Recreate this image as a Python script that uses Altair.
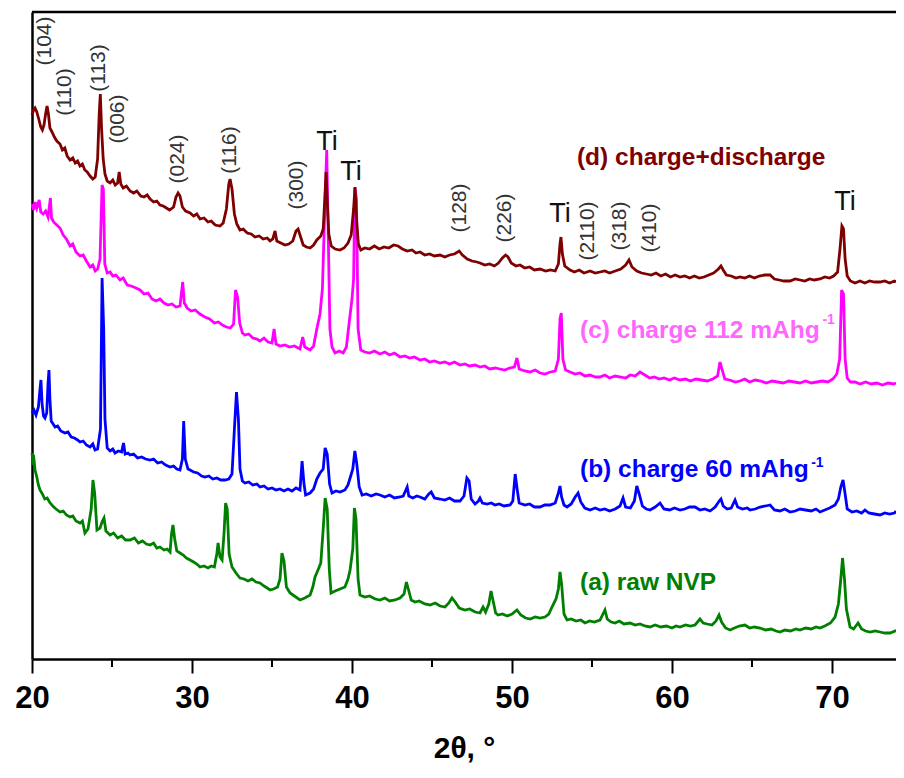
import altair as alt
import pandas as pd

# ---- data: (2theta in degrees, intensity in a.u.) ----
D_PTS = [
    (20.00, 544), (20.10, 549), (20.19, 551), (20.30, 547), (20.42, 540), (20.55, 532), (20.65, 529),
    (20.75, 534), (20.85, 545), (20.94, 553), (21.02, 546), (21.12, 531), (21.25, 527), (21.40, 522),
    (21.55, 518), (21.75, 515), (21.90, 509), (22.05, 511), (22.20, 503), (22.38, 499), (22.55, 501),
    (22.70, 496), (22.85, 498), (23.00, 493), (23.15, 495), (23.30, 489), (23.45, 487), (23.63, 483),
    (23.80, 480), (23.95, 482), (24.10, 500), (24.20, 545), (24.27, 565), (24.35, 530), (24.45, 500),
    (24.56, 485), (24.70, 478), (24.88, 476), (25.05, 479), (25.20, 474), (25.35, 476), (25.45, 487),
    (25.55, 475), (25.70, 471), (25.90, 473), (26.13, 468), (26.35, 466), (26.55, 468), (26.80, 463),
    (27.00, 462), (27.20, 464), (27.38, 460), (27.60, 457), (27.80, 458), (28.00, 454), (28.20, 453),
    (28.40, 451), (28.60, 449), (28.85, 452), (29.00, 462), (29.13, 466), (29.25, 463), (29.40, 452),
    (29.60, 448), (29.88, 446), (30.10, 443), (30.30, 445), (30.50, 440), (30.75, 441), (31.00, 437),
    (31.20, 438), (31.45, 434), (31.75, 433), (31.95, 436), (32.15, 450), (32.30, 475), (32.38, 480),
    (32.50, 470), (32.65, 445), (32.80, 435), (33.00, 429), (33.20, 430), (33.45, 426), (33.70, 425),
    (33.94, 422), (34.20, 423), (34.45, 420), (34.70, 421), (34.88, 418), (35.05, 420), (35.19, 428),
    (35.30, 418), (35.55, 416), (35.81, 414), (36.05, 415), (36.30, 418), (36.50, 428), (36.63, 430),
    (36.75, 424), (36.95, 414), (37.15, 412), (37.38, 411), (37.60, 414), (37.80, 419), (38.05, 423),
    (38.20, 430), (38.30, 460), (38.38, 487), (38.46, 455), (38.55, 425), (38.70, 413), (38.95, 410),
    (39.25, 409), (39.50, 411), (39.75, 416), (39.95, 424), (40.10, 450), (40.19, 472), (40.28, 440),
    (40.40, 415), (40.55, 409), (40.80, 411), (41.10, 410), (41.40, 413), (41.70, 410), (42.00, 412),
    (42.30, 411), (42.60, 414), (42.88, 413), (43.15, 410), (43.45, 408), (43.75, 409), (44.00, 406),
    (44.25, 407), (44.55, 404), (44.85, 405), (45.15, 403), (45.50, 404), (45.80, 402), (46.10, 404),
    (46.40, 405), (46.70, 408), (46.90, 404), (47.20, 400), (47.50, 398), (47.80, 397), (48.00, 396),
    (48.30, 394), (48.60, 395), (48.90, 393), (49.15, 396), (49.40, 401), (49.60, 404), (49.75, 402),
    (49.95, 396), (50.25, 393), (50.50, 394), (50.80, 391), (51.10, 392), (51.40, 389), (51.75, 390),
    (52.10, 388), (52.40, 389), (52.70, 388), (52.90, 395), (53.00, 415), (53.06, 422), (53.15, 405),
    (53.30, 393), (53.63, 389), (53.90, 387), (54.20, 389), (54.50, 386), (54.88, 388), (55.20, 386),
    (55.50, 387), (55.80, 388), (56.10, 386), (56.45, 388), (56.80, 390), (57.10, 394), (57.31, 399),
    (57.50, 392), (57.80, 388), (58.10, 386), (58.40, 385), (58.70, 384), (59.00, 386), (59.30, 383),
    (59.60, 385), (59.90, 382), (60.20, 384), (60.50, 382), (60.80, 383), (61.10, 381), (61.40, 383),
    (61.70, 381), (62.00, 382), (62.30, 384), (62.60, 386), (62.90, 390), (63.06, 393), (63.20, 389),
    (63.40, 384), (63.70, 383), (64.00, 381), (64.25, 382), (64.55, 381), (64.85, 383), (65.15, 381),
    (65.45, 383), (65.80, 384), (66.13, 384), (66.40, 380), (66.70, 379), (67.00, 378), (67.38, 378),
    (67.70, 380), (68.00, 379), (68.30, 378), (68.60, 380), (68.90, 379), (69.25, 380), (69.55, 382),
    (69.85, 381), (70.10, 383), (70.35, 387), (70.50, 410), (70.62, 433), (70.72, 430), (70.82, 400),
    (70.95, 383), (71.15, 378), (71.44, 376), (71.75, 378), (72.05, 376), (72.35, 378), (72.65, 377),
    (73.00, 377), (73.30, 378), (73.60, 376), (73.90, 378), (74.00, 377),
]

C_PTS = [
    (20.00, 455), (20.10, 449), (20.20, 457), (20.30, 451), (20.45, 459), (20.55, 447), (20.70, 445),
    (20.85, 448), (21.00, 442), (21.08, 452), (21.15, 461), (21.22, 441), (21.35, 437), (21.55, 434),
    (21.75, 431), (21.95, 424), (22.15, 420), (22.38, 413), (22.55, 415), (22.75, 407), (23.00, 403),
    (23.20, 404), (23.40, 398), (23.63, 392), (23.80, 394), (23.95, 388), (24.10, 390), (24.25, 400),
    (24.38, 474), (24.46, 470), (24.55, 395), (24.70, 386), (24.88, 387), (25.05, 383), (25.25, 384),
    (25.50, 379), (25.70, 381), (25.95, 374), (26.20, 373), (26.50, 371), (26.75, 369), (27.00, 365),
    (27.25, 366), (27.50, 360), (27.75, 358), (28.00, 360), (28.25, 356), (28.50, 354), (28.75, 355),
    (29.00, 352), (29.25, 353), (29.42, 377), (29.52, 356), (29.70, 351), (29.95, 348), (30.20, 349),
    (30.50, 345), (30.80, 342), (31.10, 340), (31.40, 336), (31.65, 337), (31.90, 334), (32.15, 332),
    (32.40, 331), (32.60, 335), (32.72, 369), (32.85, 362), (32.98, 336), (33.15, 326), (33.31, 324),
    (33.55, 325), (33.80, 321), (34.05, 320), (34.25, 318), (34.50, 321), (34.75, 317), (35.00, 316),
    (35.13, 330), (35.25, 315), (35.50, 313), (35.81, 314), (36.10, 312), (36.40, 313), (36.75, 310),
    (36.92, 322), (37.05, 312), (37.38, 309), (37.60, 313), (37.80, 330), (38.00, 345), (38.15, 370),
    (38.30, 450), (38.42, 509), (38.52, 420), (38.62, 330), (38.75, 312), (38.94, 306), (39.20, 308),
    (39.45, 306), (39.65, 312), (39.85, 340), (40.00, 360), (40.10, 380), (40.18, 471), (40.28, 460),
    (40.38, 330), (40.55, 309), (40.80, 307), (41.10, 306), (41.40, 308), (41.75, 305), (42.05, 307),
    (42.35, 304), (42.65, 306), (43.00, 302), (43.30, 303), (43.60, 301), (43.90, 302), (44.25, 299),
    (44.55, 300), (44.85, 297), (45.15, 298), (45.50, 296), (45.80, 297), (46.10, 295), (46.40, 297),
    (46.75, 294), (47.05, 295), (47.35, 293), (47.70, 294), (48.00, 292), (48.30, 293), (48.60, 290),
    (48.95, 291), (49.25, 290), (49.55, 289), (49.85, 291), (50.15, 292), (50.31, 301), (50.45, 290),
    (50.80, 288), (51.13, 287), (51.45, 289), (51.75, 286), (52.06, 285), (52.40, 287), (52.70, 288),
    (52.90, 300), (53.00, 340), (53.08, 346), (53.18, 300), (53.35, 289), (53.63, 287), (53.95, 285),
    (54.25, 286), (54.55, 283), (54.88, 284), (55.20, 282), (55.50, 282), (55.80, 284), (56.10, 281),
    (56.45, 283), (56.80, 282), (57.10, 281), (57.40, 284), (57.70, 283), (58.00, 287), (58.30, 284),
    (58.60, 281), (58.90, 282), (59.20, 280), (59.50, 281), (59.85, 279), (60.15, 281), (60.50, 279),
    (60.85, 280), (61.15, 278), (61.50, 280), (61.85, 279), (62.20, 278), (62.55, 280), (62.85, 283),
    (63.00, 297), (63.12, 290), (63.30, 280), (63.60, 279), (63.95, 277), (64.25, 278), (64.55, 280),
    (64.85, 277), (65.20, 279), (65.55, 278), (65.90, 276), (66.25, 278), (66.60, 277), (66.95, 276),
    (67.30, 278), (67.65, 277), (68.00, 276), (68.35, 278), (68.70, 276), (69.05, 277), (69.40, 278),
    (69.75, 277), (70.05, 280), (70.30, 285), (70.48, 300), (70.60, 369), (70.72, 365), (70.82, 300),
    (70.95, 281), (71.15, 277), (71.44, 277), (71.75, 275), (72.10, 277), (72.45, 275), (72.80, 276),
    (73.15, 274), (73.50, 276), (73.85, 275), (74.00, 276),
]

B_PTS = [
    (20.00, 246), (20.12, 249), (20.25, 244), (20.40, 252), (20.50, 270), (20.56, 279), (20.63, 255),
    (20.72, 243), (20.81, 241), (20.92, 246), (21.00, 275), (21.06, 289), (21.12, 260), (21.20, 238),
    (21.32, 235), (21.44, 232), (21.60, 233), (21.80, 228), (22.06, 226), (22.25, 227), (22.45, 222),
    (22.65, 221), (22.85, 219), (23.00, 217), (23.20, 218), (23.40, 214), (23.63, 212), (23.80, 215),
    (23.94, 209), (24.10, 210), (24.28, 230), (24.38, 381), (24.48, 330), (24.56, 240), (24.70, 211),
    (24.88, 208), (25.05, 210), (25.19, 206), (25.40, 208), (25.60, 207), (25.72, 216), (25.82, 205),
    (26.00, 206), (26.13, 204), (26.35, 205), (26.60, 201), (26.85, 202), (27.10, 200), (27.38, 199),
    (27.60, 200), (27.85, 196), (28.10, 197), (28.35, 194), (28.63, 192), (28.85, 193), (29.05, 190),
    (29.25, 189), (29.40, 200), (29.48, 238), (29.58, 200), (29.75, 190), (29.88, 189), (30.10, 187),
    (30.35, 186), (30.60, 183), (30.81, 182), (31.05, 183), (31.30, 180), (31.55, 181), (31.80, 179),
    (32.06, 179), (32.30, 180), (32.50, 185), (32.65, 230), (32.78, 267), (32.90, 240), (33.00, 190),
    (33.15, 178), (33.31, 176), (33.55, 177), (33.80, 174), (34.05, 175), (34.25, 172), (34.50, 173),
    (34.75, 170), (35.00, 171), (35.25, 169), (35.50, 170), (35.75, 168), (36.00, 170), (36.25, 168),
    (36.50, 171), (36.75, 169), (36.88, 198), (37.00, 175), (37.10, 164), (37.38, 166), (37.60, 170),
    (37.80, 180), (38.00, 186), (38.20, 190), (38.32, 211), (38.45, 205), (38.60, 175), (38.75, 166),
    (39.00, 168), (39.25, 167), (39.56, 169), (39.75, 174), (39.90, 182), (40.05, 190), (40.18, 208),
    (40.30, 195), (40.45, 172), (40.63, 164), (40.90, 165), (41.20, 163), (41.50, 165), (41.75, 164),
    (42.05, 162), (42.35, 164), (42.65, 161), (43.00, 162), (43.20, 163), (43.45, 172), (43.55, 163),
    (43.80, 161), (44.05, 163), (44.25, 162), (44.55, 160), (44.80, 165), (44.95, 167), (45.15, 161),
    (45.50, 160), (45.80, 159), (46.10, 161), (46.40, 158), (46.75, 158), (47.00, 163), (47.18, 181),
    (47.32, 178), (47.45, 160), (47.69, 155), (47.90, 158), (48.00, 161), (48.15, 156), (48.45, 155),
    (48.70, 156), (48.94, 154), (49.20, 155), (49.50, 153), (49.88, 154), (50.05, 158), (50.20, 185),
    (50.32, 170), (50.45, 156), (50.81, 154), (51.10, 155), (51.40, 152), (51.75, 152), (52.05, 154),
    (52.38, 154), (52.70, 156), (52.90, 166), (53.00, 173), (53.10, 162), (53.25, 154), (53.44, 152),
    (53.70, 155), (53.95, 162), (54.13, 166), (54.30, 157), (54.55, 151), (54.88, 149), (55.20, 151),
    (55.50, 149), (55.80, 150), (56.10, 148), (56.45, 150), (56.75, 153), (56.94, 161), (57.10, 152),
    (57.40, 151), (57.65, 158), (57.80, 173), (57.95, 165), (58.15, 153), (58.40, 150), (58.63, 149),
    (58.95, 152), (59.25, 156), (59.50, 150), (59.85, 149), (60.15, 151), (60.50, 149), (60.80, 150),
    (61.10, 152), (61.44, 152), (61.75, 149), (62.05, 150), (62.38, 148), (62.70, 152), (62.95, 158),
    (63.06, 160), (63.20, 153), (63.45, 150), (63.70, 151), (63.94, 159), (64.10, 152), (64.40, 150),
    (64.70, 151), (64.88, 149), (65.20, 150), (65.50, 152), (65.85, 153), (66.13, 154), (66.40, 149),
    (66.75, 148), (67.05, 150), (67.38, 147), (67.70, 148), (68.00, 150), (68.35, 149), (68.70, 148),
    (69.00, 150), (69.25, 147), (69.55, 149), (69.85, 151), (70.19, 154), (70.40, 160), (70.55, 172),
    (70.69, 179), (70.82, 165), (70.95, 150), (71.25, 147), (71.55, 148), (71.85, 146), (72.06, 149),
    (72.30, 146), (72.65, 145), (73.00, 144), (73.30, 146), (73.60, 145), (73.90, 146), (74.00, 148),
]

A_PTS = [
    (20.00, 206), (20.06, 198), (20.12, 200), (20.19, 189), (20.30, 182), (20.40, 174), (20.50, 169),
    (20.65, 165), (20.80, 160), (20.95, 161), (21.13, 156), (21.30, 153), (21.50, 150), (21.75, 147),
    (21.95, 148), (22.15, 144), (22.38, 142), (22.55, 143), (22.75, 138), (23.00, 136), (23.15, 138),
    (23.31, 126), (23.50, 130), (23.70, 150), (23.81, 179), (23.92, 165), (24.06, 129), (24.25, 131),
    (24.40, 138), (24.50, 141), (24.62, 128), (24.88, 124), (25.10, 126), (25.35, 121), (25.60, 123),
    (25.85, 119), (26.13, 119), (26.40, 121), (26.65, 116), (26.90, 118), (27.15, 115), (27.38, 114),
    (27.60, 116), (27.80, 111), (28.00, 112), (28.25, 109), (28.45, 110), (28.63, 107), (28.72, 125),
    (28.81, 134), (28.92, 120), (29.05, 108), (29.25, 106), (29.45, 104), (29.65, 101), (29.88, 99),
    (30.10, 97), (30.30, 95), (30.50, 92), (30.75, 93), (31.00, 91), (31.20, 93), (31.40, 92),
    (31.55, 105), (31.63, 116), (31.75, 102), (31.88, 99), (32.00, 125), (32.10, 156), (32.20, 150),
    (32.32, 105), (32.50, 92), (32.75, 86), (33.00, 81), (33.25, 80), (33.50, 78), (33.75, 80),
    (34.00, 77), (34.25, 76), (34.50, 73), (34.70, 71), (34.88, 69), (35.10, 70), (35.35, 72),
    (35.50, 80), (35.62, 106), (35.75, 98), (35.90, 72), (36.13, 66), (36.40, 63), (36.75, 59),
    (37.05, 61), (37.38, 64), (37.55, 72), (37.69, 82), (37.90, 90), (38.05, 96), (38.20, 130),
    (38.32, 161), (38.45, 150), (38.58, 90), (38.69, 66), (38.95, 68), (39.25, 70), (39.56, 72),
    (39.75, 80), (39.88, 89), (40.05, 110), (40.15, 151), (40.25, 140), (40.38, 80), (40.50, 64),
    (40.80, 62), (41.10, 63), (41.45, 60), (41.75, 59), (42.05, 61), (42.35, 58), (42.69, 59),
    (43.00, 61), (43.25, 65), (43.40, 77), (43.52, 70), (43.70, 59), (43.94, 57), (44.20, 58),
    (44.55, 55), (44.88, 54), (45.20, 56), (45.50, 53), (45.81, 52), (46.05, 56), (46.25, 61),
    (46.45, 57), (46.70, 51), (47.06, 49), (47.35, 50), (47.70, 47), (48.00, 46), (48.19, 52),
    (48.35, 47), (48.55, 55), (48.69, 68), (48.82, 58), (48.98, 46), (49.13, 44), (49.40, 45),
    (49.70, 43), (50.00, 45), (50.31, 49), (50.55, 44), (50.85, 41), (51.13, 40), (51.45, 42),
    (51.75, 41), (52.06, 42), (52.30, 45), (52.50, 52), (52.75, 60), (52.90, 70), (53.00, 87),
    (53.10, 75), (53.25, 45), (53.44, 39), (53.70, 40), (54.00, 38), (54.30, 39), (54.56, 36),
    (54.85, 38), (55.15, 37), (55.50, 39), (55.81, 49), (55.95, 40), (56.20, 37), (56.44, 36),
    (56.70, 38), (57.00, 35), (57.38, 36), (57.70, 34), (58.00, 35), (58.30, 33), (58.63, 32),
    (58.95, 34), (59.30, 32), (59.65, 33), (60.00, 31), (60.25, 33), (60.50, 32), (60.85, 34),
    (61.15, 33), (61.44, 34), (61.75, 40), (61.95, 36), (62.20, 35), (62.50, 34), (62.75, 38),
    (62.94, 44), (63.10, 37), (63.35, 31), (63.63, 29), (63.90, 31), (64.20, 33), (64.56, 34),
    (64.85, 31), (65.15, 32), (65.50, 31), (65.85, 29), (66.20, 30), (66.50, 28), (66.75, 27),
    (67.05, 29), (67.40, 28), (67.75, 30), (68.00, 29), (68.35, 31), (68.70, 30), (69.00, 32),
    (69.25, 31), (69.55, 33), (69.90, 36), (70.19, 42), (70.40, 55), (70.55, 80), (70.66, 101),
    (70.78, 80), (70.90, 50), (71.13, 32), (71.35, 30), (71.63, 36), (71.85, 30), (72.10, 28),
    (72.38, 27), (72.70, 28), (73.00, 27), (73.30, 26), (73.63, 26), (73.95, 28), (74.00, 27),
]

SERIES_COLORS = {"a": "#007F00", "b": "#0000FF", "c": "#FF00FF", "d": "#7F0000"}

# peak index labels (rotated)
HKL_LABELS = ["(104)", "(110)", "(113)", "(006)", "(024)", "(116)", "(300)",
              "(128)", "(226)", "(2110)", "(318)", "(410)"]
HKL_X = [20.81, 22.06, 24.19, 25.38, 29.13, 32.38, 36.56, 46.75, 49.56, 54.75, 56.75, 58.63]
HKL_Y = [618, 567, 591, 540, 500, 509, 474, 451, 441, 428, 433, 431]

TI_X = [38.44, 39.94, 53.0, 70.81]
TI_Y = [509, 479, 437, 449]

SERIES_LABELS = ["(d) charge+discharge", "(c) charge 112 mAhg", "(b) charge 60 mAhg", "(a) raw NVP"]
SERIES_LABEL_X = [54.06, 54.25, 54.25, 54.25]
SERIES_LABEL_Y = [494, 321, 182, 69]
SERIES_LABEL_COLORS = ["#7F0000", "#FF66FF", "#0000FF", "#007F00"]

SUP_X = [69.4, 68.7]
SUP_Y = [335, 192]
SUP_COLORS = ["#FF66FF", "#0000FF"]

MAJOR_TICKS = [20, 30, 40, 50, 60, 70]
MINOR_TICKS = [25, 35, 45, 55, 65]

W, H = 864, 647
x_scale = alt.Scale(domain=[20, 74], nice=False, zero=False)
y_scale = alt.Scale(domain=[0, 647], nice=False, zero=False)

TEXT_FONT = "'Liberation Sans', Arial, sans-serif"

x_axis = alt.Axis(
    values=MAJOR_TICKS, format="d",
    tickSize=14, tickWidth=2, tickColor="black", domainColor="black", domainWidth=2.5,
    labelFont=TEXT_FONT, labelFontSize=31, labelFontWeight="bold", labelColor="black",
    labelPadding=10, labelFlush=False, grid=False,
    title="2θ, °", titleFont=TEXT_FONT, titleFontSize=30, titleFontWeight="bold",
    titleColor="black", titlePadding=20,
)
y_axis = alt.Axis(domain=True, domainColor="black", domainWidth=2.5, ticks=False,
                  labels=False, grid=False, title="")

X_ENC = alt.X("x:Q", scale=x_scale, axis=x_axis)
Y_ENC = alt.Y("y:Q", scale=y_scale, axis=y_axis)


def line_layer(pts, color):
    df = pd.DataFrame(pts, columns=["x", "y"])
    return alt.Chart(df).mark_line(color=color, strokeWidth=2.8).encode(x=X_ENC, y=Y_ENC)


layers = [
    line_layer(A_PTS, SERIES_COLORS["a"]),
    line_layer(B_PTS, SERIES_COLORS["b"]),
    line_layer(C_PTS, SERIES_COLORS["c"]),
    line_layer(D_PTS, SERIES_COLORS["d"]),
]

hkl_df = pd.DataFrame({"x": HKL_X, "y": HKL_Y, "t": HKL_LABELS})
hkl = alt.Chart(hkl_df).mark_text(
    angle=270, fontSize=21, font=TEXT_FONT, color="#333333", align="center", baseline="middle"
).encode(x=X_ENC, y=Y_ENC, text="t:N")

ti_df = pd.DataFrame({"x": TI_X, "y": TI_Y, "t": ["Ti"] * len(TI_X)})
ti = alt.Chart(ti_df).mark_text(
    fontSize=27, font=TEXT_FONT, color="#111111", align="center", baseline="alphabetic"
).encode(x=X_ENC, y=Y_ENC, text="t:N")

lab_df = pd.DataFrame({"x": SERIES_LABEL_X, "y": SERIES_LABEL_Y, "t": SERIES_LABELS,
                       "c": SERIES_LABEL_COLORS})
labels = alt.Chart(lab_df).mark_text(
    fontSize=24.5, font=TEXT_FONT, fontWeight="bold", align="left", baseline="alphabetic"
).encode(x=X_ENC, y=Y_ENC, text="t:N", color=alt.Color("c:N", scale=None))

sup_df = pd.DataFrame({"x": SUP_X, "y": SUP_Y, "t": ["-1", "-1"], "c": SUP_COLORS})
sups = alt.Chart(sup_df).mark_text(
    fontSize=14, font=TEXT_FONT, fontWeight="bold", align="left", baseline="alphabetic"
).encode(x=X_ENC, y=Y_ENC, text="t:N", color=alt.Color("c:N", scale=None))

minor = alt.Chart(pd.DataFrame({"x": MINOR_TICKS})).mark_rule(color="black", strokeWidth=2).encode(
    x=X_ENC, y=alt.value(H), y2=alt.value(H + 8)
)

top_line = alt.Chart(pd.DataFrame({"k": [0]})).mark_rule(color="black", strokeWidth=2.5).encode(
    x=alt.value(0), x2=alt.value(W), y=alt.value(0)
)

chart = alt.layer(*layers, hkl, ti, labels, sups, minor, top_line).properties(
    width=W, height=H,
    padding={"left": 24, "top": 4, "right": 0, "bottom": 106},
    autosize=alt.AutoSizeParams(type="none"),
).configure_view(stroke="transparent")

chart.save("out.html", embed_options={"renderer": "svg", "actions": False})
